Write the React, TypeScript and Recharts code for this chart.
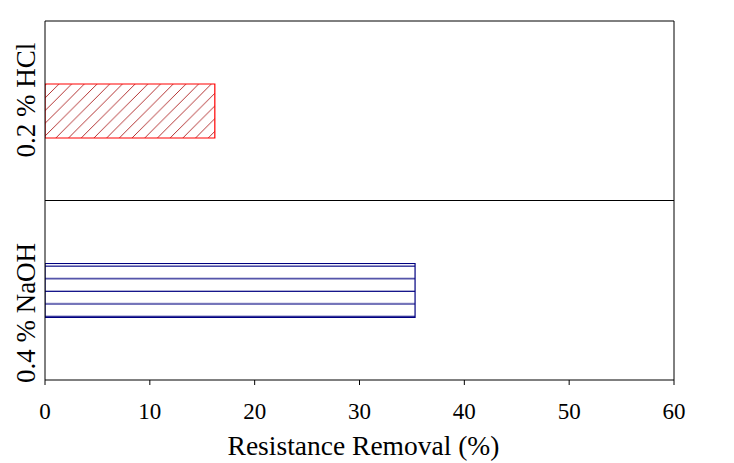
import React from 'react';
import { BarChart, Bar, XAxis, YAxis, Cell, CartesianGrid, Label } from 'recharts';

const categories = ['0.2 % HCl', '0.4 % NaOH'];
const removal = [16.2, 35.3];
const xTicks = [0, 10, 20, 30, 40, 50, 60];
const xTitle = 'Resistance Removal (%)';

const data = categories.map((name, i) => ({ name, value: removal[i] }));

const FONT = '"Liberation Serif", "Times New Roman", serif';
const labelShift = [-10.75, 22.75];
const fills = ['url(#hatchDiag)', 'url(#hatchHoriz)'];
const strokes = ['#ff0000', '#000080'];

const YTick = (props: any) => {
  const { x, y, payload, index } = props;
  const cy = y + (labelShift[index] ?? 0);
  return (
    <text
      x={x}
      y={cy}
      transform={`rotate(-90 ${x} ${cy})`}
      textAnchor="middle"
      fontFamily={FONT}
      fontSize={27}
      fill="#000"
    >
      {payload.value}
    </text>
  );
};

const XTick = (props: any) => {
  const { x, y, payload } = props;
  return (
    <text x={x} y={y} dy={16} textAnchor="middle" fontFamily={FONT} fontSize={23} fill="#000">
      {payload.value}
    </text>
  );
};

export default function App() {
  return (
    <BarChart
      width={726}
      height={455}
      data={data}
      layout="vertical"
      margin={{ top: 13, right: 60, bottom: 0, left: 0 }}
    >
      <defs>
        <pattern id="hatchDiag" patternUnits="userSpaceOnUse" width={12.7} height={12.7}>
          <rect width={12.7} height={12.7} fill="#fff" />
          <path
            d="M0,12.7 L12.7,0 M-1,1 L1,-1 M11.7,13.7 L13.7,11.7"
            stroke="#a00000"
            strokeWidth={0.8}
          />
        </pattern>
        <pattern id="hatchHoriz" patternUnits="userSpaceOnUse" width={10} height={12.6}>
          <rect width={10} height={12.6} fill="#fff" />
          <line x1={0} x2={10} y1={6.1} y2={6.1} stroke="#000080" strokeWidth={1.2} />
        </pattern>
      </defs>
      <CartesianGrid
        stroke="#000"
        strokeWidth={1}
        fill="none"
        horizontalCoordinatesGenerator={({ offset }: any) => [
          offset.top,
          offset.top + offset.height / 2,
        ]}
        verticalCoordinatesGenerator={({ offset }: any) => [offset.left + offset.width]}
      />
      <XAxis
        type="number"
        domain={[0, 60]}
        ticks={xTicks}
        interval={0}
        height={83}
        tickSize={5}
        tickMargin={18}
        axisLine={{ stroke: '#000' }}
        tickLine={{ stroke: '#000' }}
        tick={<XTick />}
        allowDataOverflow
      >
        <Label
          value={xTitle}
          position="insideBottom"
          offset={8}
          fill="#000"
          fontFamily={FONT}
          fontSize={27.5}
          dx={4}
        />
      </XAxis>
      <YAxis
        type="category"
        dataKey="name"
        width={37}
        tickSize={0}
        tickMargin={10}
        tickLine={false}
        axisLine={{ stroke: '#000' }}
        tick={<YTick />}
        interval={0}
      />
      <Bar dataKey="value" barSize={54} isAnimationActive={false}>
        {data.map((d, i) => (
          <Cell key={d.name} fill={fills[i]} stroke={strokes[i]} strokeWidth={1.2} />
        ))}
      </Bar>
    </BarChart>
  );
}
